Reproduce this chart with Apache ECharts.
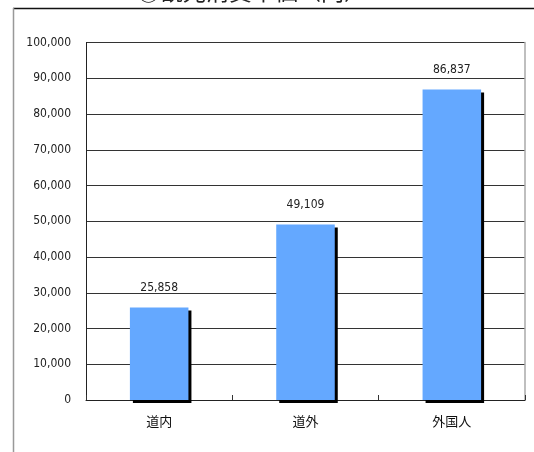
<!DOCTYPE html>
<html>
<head>
<meta charset="utf-8">
<script src="https://cdn.jsdelivr.net/npm/echarts@6/dist/echarts.min.js"></script>
<style>
html,body{margin:0;padding:0;background:#fff;}
#c{width:534px;height:452px;}
</style>
</head>
<body>
<div id="c"></div>
<script>
var titleText = '②観光消費単価（円）';
var categories = ['道内', '道外', '外国人'];
var values = [25858, 49109, 86837];
var yTicks = [0, 10000, 20000, 30000, 40000, 50000, 60000, 70000, 80000, 90000, 100000];

var numFont = '"DejaVu Sans Condensed", "Liberation Sans Narrow", "Roboto Condensed", sans-serif';
var jpFont = '"Noto Sans CJK JP", sans-serif';

var chart = echarts.init(document.getElementById('c'), null, {renderer: 'canvas'});
chart.setOption({
  backgroundColor: '#fff',
  animation: false,
  title: {
    text: titleText,
    left: 137,
    top: -20,
    padding: 0,
    textStyle: {fontFamily: jpFont, fontSize: 23, fontWeight: 'normal', color: '#222'}
  },
  graphic: [
    {type: 'line', shape: {x1: 13, y1: 8.5, x2: 534, y2: 8.5}, style: {stroke: '#111', lineWidth: 1.5}, silent: true},
    {type: 'line', shape: {x1: 13.5, y1: 8, x2: 13.5, y2: 452}, style: {stroke: '#999', lineWidth: 1.5}, silent: true}
  ],
  grid: {left: 86, right: 9, top: 42.5, bottom: 52, containLabel: false},
  xAxis: {
    type: 'category',
    data: categories,
    axisLine: {show: true, lineStyle: {color: '#222', width: 1}},
    axisTick: {show: true, inside: true, length: 5, lineStyle: {color: '#333'}},
    axisLabel: {margin: 15, fontFamily: jpFont, fontSize: 13, color: '#111'},
    splitLine: {show: false}
  },
  yAxis: [{
    type: 'value',
    min: yTicks[0],
    max: yTicks[yTicks.length - 1],
    interval: 10000,
    axisLine: {show: true, lineStyle: {color: '#222', width: 1}},
    axisTick: {show: false},
    axisLabel: {
      margin: 15, fontFamily: numFont, fontSize: 12, color: '#222',
      formatter: function (v) { return v.toLocaleString('en-US'); }
    },
    splitLine: {show: true, lineStyle: {color: '#333', width: 1}}
  }, {
    type: 'value',
    position: 'right',
    min: yTicks[0],
    max: yTicks[yTicks.length - 1],
    interval: 10000,
    axisLine: {show: true, lineStyle: {color: '#aaa', width: 1.5}},
    axisTick: {show: false},
    axisLabel: {show: false},
    splitLine: {show: false}
  }],
  series: [{
    type: 'bar',
    data: values,
    barWidth: '40%',
    itemStyle: {
      color: '#64A8FF',
      shadowColor: '#000',
      shadowBlur: 0,
      shadowOffsetX: 3,
      shadowOffsetY: 3
    },
    label: {
      show: true,
      position: 'top',
      distance: 14,
      fontFamily: numFont,
      fontSize: 12,
      color: '#222',
      formatter: function (p) { return p.value.toLocaleString('en-US'); }
    }
  }]
});
</script>
</body>
</html>
